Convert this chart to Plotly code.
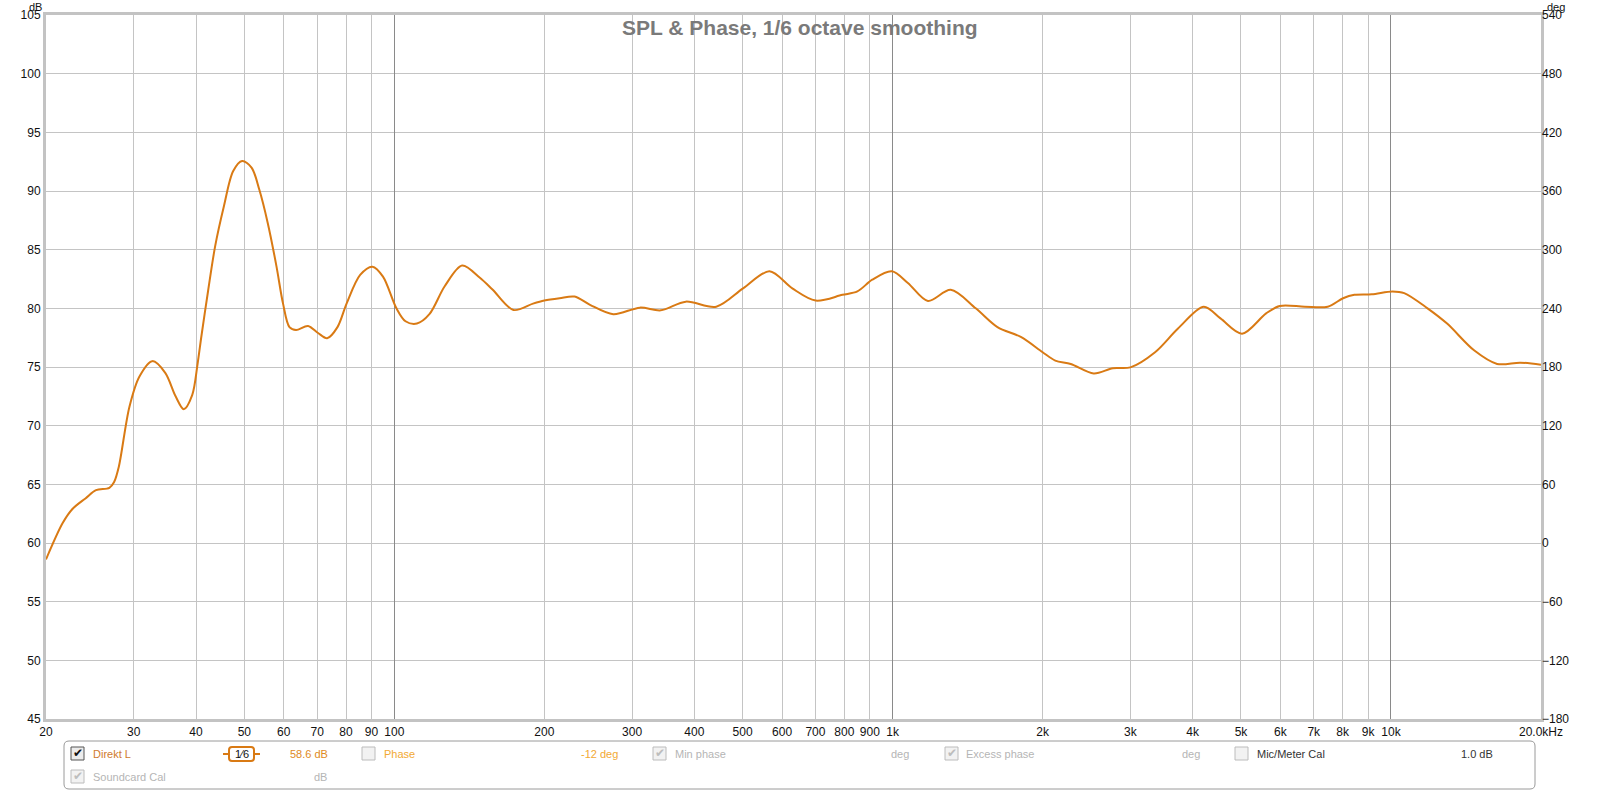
import math
import plotly.graph_objects as go

# ---------------- data ----------------
freq_hz = [20, 21.6, 22.6, 24.0, 25.2, 26.8, 27.4, 28.0, 29.4, 30.8, 32.7, 34.7, 36.4, 37.8,
           39.3, 40.3, 41.0, 42.3, 43.7, 45.5, 47.5, 49.5, 51.7, 53.6, 55.7, 58.0, 59.8,
           61.6, 63.5, 67.1, 70.3, 73.3, 76.9, 80.2, 85.4, 90.4, 94.9, 101, 105.3, 111,
           117.6, 126.3, 136.8, 148.5, 157.4, 173.4, 189.8, 200, 214.6, 230, 247, 275,
           311, 342.6, 384.5, 442.6, 501, 566, 629, 700.6, 793, 849.6, 910, 996, 1073,
           1177, 1308, 1468, 1623, 1808, 2000, 2120, 2277, 2532, 2766, 3000, 3362, 3738,
           4210, 4548, 5024, 5616, 5982, 6712, 7465, 8014, 8443, 9149, 10070, 10630,
           11840, 12960, 14700, 16330, 18170, 20000]
spl_db = [58.6, 61.7, 62.9, 63.8, 64.5, 64.7, 65.2, 66.5, 71.6, 74.2, 75.5, 74.5, 72.5, 71.4,
          72.6, 75.3, 77.6, 81.5, 85.3, 88.7, 91.7, 92.55, 92.0, 90.1, 87.3, 83.6, 80.4,
          78.4, 78.15, 78.5, 77.9, 77.45, 78.4, 80.4, 82.85, 83.55, 82.7, 80.0, 78.9, 78.7,
          79.5, 81.9, 83.65, 82.6, 81.6, 79.86, 80.4, 80.66, 80.86, 81.0, 80.3, 79.5,
          80.06, 79.83, 80.57, 80.14, 81.7, 83.16, 81.7, 80.66, 81.15, 81.44, 82.44, 83.16, 82.16,
          80.63, 81.58, 80.0, 78.4, 77.56, 76.26, 75.55, 75.26, 74.45, 74.9, 74.97, 76.26, 78.28,
          80.14, 79.14, 77.84, 79.57, 80.2, 80.14, 80.14, 80.86, 81.15, 81.2, 81.44, 81.3,
          80.0, 78.7, 76.4, 75.26, 75.37, 75.2]

x_tickvals = [20, 30, 40, 50, 60, 70, 80, 90, 100, 200, 300, 400, 500, 600, 700, 800, 900,
              1000, 2000, 3000, 4000, 5000, 6000, 7000, 8000, 9000, 10000, 20000]
x_ticktext = ["20", "30", "40", "50", "60", "70", "80", "90", "100", "200", "300", "400",
              "500", "600", "700", "800", "900", "1k", "2k", "3k", "4k", "5k", "6k", "7k",
              "8k", "9k", "10k", "20.0kHz"]
decade_vals = [100, 1000, 10000]
db_range = [45, 105]
deg_range = [-180, 540]

title_text = "SPL & Phase, 1/6 octave smoothing"

# ---------------- layout geometry ----------------
W, H = 1600, 791
L, R, T, B = 46, 1541, 15, 719

def px(x):
    return (x - L) / (R - L)

def py(y):
    return (B - y) / (B - T)

FONT = "Liberation Sans, Arial, sans-serif"
ORANGE = "#d97a14"

fig = go.Figure()

fig.add_trace(go.Scatter(
    x=freq_hz, y=spl_db, mode="lines",
    line=dict(color=ORANGE, width=2, shape="spline", smoothing=0.9),
    showlegend=False, hoverinfo="x+y"))

# invisible trace to create the overlay subplot (decade grid + deg axis)
fig.add_trace(go.Scatter(
    x=[x_tickvals[0], x_tickvals[-1]], y=deg_range, xaxis="x2", yaxis="y2",
    mode="lines", line=dict(width=0, color="rgba(0,0,0,0)"),
    showlegend=False, hoverinfo="skip"))

logr = [math.log10(x_tickvals[0]), math.log10(x_tickvals[-1])]

fig.update_layout(
    width=W, height=H,
    margin=dict(l=L, r=W - R, t=T, b=H - B, autoexpand=False),
    paper_bgcolor="white", plot_bgcolor="white",
    font=dict(family=FONT, size=12, color="#222"),
    xaxis=dict(type="log", range=logr, tickmode="array", tickvals=x_tickvals,
               ticktext=x_ticktext, showgrid=True, gridcolor="#c4c4c4", gridwidth=1,
               ticks="", showline=True, linecolor="#c3c3c3", linewidth=3, mirror=True,
               zeroline=False, automargin=False, tickfont=dict(size=12, color="#111")),
    yaxis=dict(range=db_range, dtick=5, tick0=45, showgrid=True, gridcolor="#c4c4c4",
               gridwidth=1, ticks="", showline=True, linecolor="#c3c3c3", linewidth=3,
               mirror=True, zeroline=False, automargin=False,
               tickfont=dict(size=12, color="#111")),
    xaxis2=dict(type="log", range=logr, overlaying="x", tickmode="array",
                tickvals=decade_vals, showticklabels=False, showgrid=True,
                gridcolor="#8a8a8a", gridwidth=1, ticks="", showline=False, zeroline=False,
                automargin=False),
    yaxis2=dict(range=deg_range, dtick=60, tick0=-180, overlaying="y", side="right",
                showgrid=False, ticks="", showline=False, zeroline=False, automargin=False,
                tickfont=dict(size=12, color="#111")),
)

ann = []
ann.append(dict(text="<b>" + title_text + "</b>", x=px(800), y=py(27), xref="paper", yref="paper",
                xanchor="center", yanchor="middle", showarrow=False,
                font=dict(family=FONT, size=21, color="#7a7a7a")))
ann.append(dict(text="dB", x=px(35), y=py(6.5), xref="paper", yref="paper", xanchor="center",
                yanchor="middle", showarrow=False, borderpad=0,
                font=dict(size=11, color="#111")))
ann.append(dict(text="deg", x=px(1556), y=py(6.5), xref="paper", yref="paper", xanchor="center",
                yanchor="middle", showarrow=False, borderpad=0,
                font=dict(size=11, color="#111")))

shapes = []

# legend box (rounded)
def rounded(x0, y0, x1, y1, r):
    rx, ry = r / (R - L), r / (B - T)
    a0, a1 = px(x0), px(x1)
    b0, b1 = py(y1), py(y0)  # b0 bottom, b1 top
    return (f"M {a0+rx},{b1} L {a1-rx},{b1} Q {a1},{b1} {a1},{b1-ry} "
            f"L {a1},{b0+ry} Q {a1},{b0} {a1-rx},{b0} L {a0+rx},{b0} "
            f"Q {a0},{b0} {a0},{b0+ry} L {a0},{b1-ry} Q {a0},{b1} {a0+rx},{b1} Z")

shapes.append(dict(type="path", path=rounded(64, 741, 1535, 789, 5), xref="paper", yref="paper",
                   line=dict(color="#9a9a9a", width=1), fillcolor="white", layer="above"))

def checkbox(x, y, checked, active):
    shapes.append(dict(type="rect", xref="paper", yref="paper",
                       x0=px(x), x1=px(x + 13), y0=py(y + 13), y1=py(y),
                       line=dict(color="#555" if active else "#bcbcbc", width=1),
                       fillcolor="#ececec" if active else "#f2f2f2", layer="above"))
    if checked:
        ann.append(dict(text="✔", x=px(x + 7), y=py(y + 6), xref="paper", yref="paper",
                        xanchor="center", yanchor="middle", showarrow=False,
                        font=dict(family="DejaVu Sans", size=12,
                                  color="#111" if active else "#bdbdbd")))

def label(text, x, y, color, anchor="left", size=11):
    ann.append(dict(text=text, x=px(x), y=py(y), xref="paper", yref="paper",
                    xanchor=anchor, yanchor="middle", showarrow=False,
                    font=dict(family=FONT, size=size, color=color)))

ROW1, ROW2 = 754, 777
checkbox(71, ROW1 - 7, True, True)
label("Direkt L", 91, ROW1, "#cf7b2d")
# smoothing selector
shapes.append(dict(type="line", xref="paper", yref="paper", x0=px(223), x1=px(260),
                   y0=py(ROW1), y1=py(ROW1), line=dict(color=ORANGE, width=2), layer="above"))
shapes.append(dict(type="path", path=rounded(229, ROW1 - 7, 254, ROW1 + 7, 3), xref="paper",
                   yref="paper", line=dict(color=ORANGE, width=2), fillcolor="white", layer="above"))
label("1⁄6", 241.5, ROW1, "#111", anchor="center", size=11)
label("58.6 dB", 288, ROW1, "#e08a22")
checkbox(362, ROW1 - 7, False, False)
label("Phase", 382, ROW1, "#f2a933")
label("-12 deg", 579, ROW1, "#f2a933")
checkbox(653, ROW1 - 7, True, False)
label("Min phase", 673, ROW1, "#b5b5b5")
label("deg", 889, ROW1, "#b5b5b5")
checkbox(945, ROW1 - 7, True, False)
label("Excess phase", 964, ROW1, "#b5b5b5")
label("deg", 1180, ROW1, "#b5b5b5")
checkbox(1235, ROW1 - 7, False, False)
label("Mic/Meter Cal", 1255, ROW1, "#333")
label("1.0 dB", 1459, ROW1, "#333")
checkbox(71, ROW2 - 7, True, False)
label("Soundcard Cal", 91, ROW2, "#b5b5b5")
label("dB", 312, ROW2, "#b5b5b5")

fig.update_layout(annotations=ann, shapes=shapes)

fig.write_html("out.html", config={"displayModeBar": False},
               post_script="document.body.style.margin='0';document.body.style.padding='0';"
                           "document.body.style.overflow='hidden';")
